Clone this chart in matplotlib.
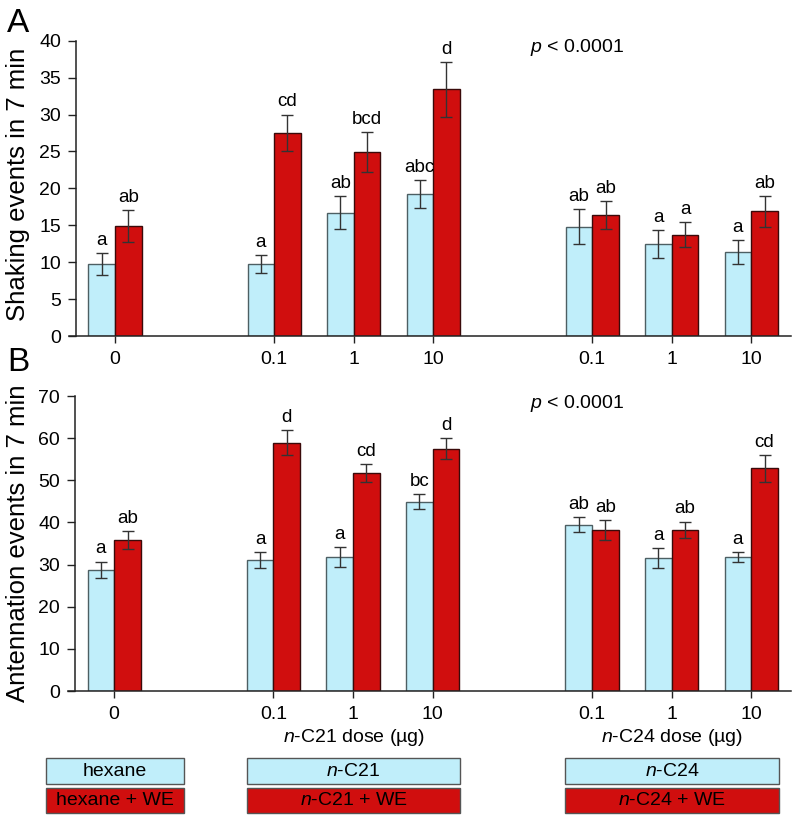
import numpy as np
import matplotlib
matplotlib.use("Agg")
import matplotlib.pyplot as plt
from matplotlib.patches import Rectangle

plt.rcParams["font.family"] = ["Liberation Sans", "DejaVu Sans"]
plt.rcParams["mathtext.fontset"] = "custom"
plt.rcParams["mathtext.it"] = "Liberation Sans:italic"
plt.rcParams["mathtext.rm"] = "Liberation Sans"

# group positions on the x axis and their tick labels
positions = [0, 2, 3, 4, 6, 7, 8]
tick_labels = ["0", "0.1", "1", "10", "0.1", "1", "10"]

# A: shaking events (mean, SE)
shake_ctrl = [9.7, 9.8, 16.7, 19.2, 14.8, 12.5, 11.4]
shake_ctrl_se = [1.5, 1.2, 2.2, 1.9, 2.4, 1.9, 1.6]
shake_we = [14.9, 27.5, 24.9, 33.4, 16.4, 13.7, 16.9]
shake_we_se = [2.1, 2.5, 2.7, 3.7, 1.9, 1.7, 2.1]
shake_ctrl_let = ["a", "a", "ab", "abc", "ab", "a", "a"]
shake_we_let = ["ab", "cd", "bcd", "d", "ab", "a", "ab"]

# B: antennation events (mean, SE)
ant_ctrl = [28.7, 31.1, 31.8, 44.9, 39.5, 31.6, 31.8]
ant_ctrl_se = [2.0, 1.9, 2.3, 1.8, 1.7, 2.4, 1.2]
ant_we = [35.8, 58.9, 51.7, 57.5, 38.2, 38.2, 52.8]
ant_we_se = [2.2, 3.0, 2.2, 2.5, 2.4, 2.0, 3.1]
ant_ctrl_let = ["a", "a", "a", "bc", "ab", "a", "a"]
ant_we_let = ["ab", "d", "cd", "d", "ab", "ab", "cd"]

BLUE = "#c0eefa"
RED = "#d00e0e"
W = 0.335
W_PX, H_PX = 796, 815
FS = 14

fig = plt.figure(figsize=(W_PX / 100, H_PX / 100), dpi=100)


def fx(px):
    return px / W_PX


def fy(px):
    return 1 - px / H_PX


def panel(rect, ctrl, ctrl_se, we, we_se, lc, lw, ymax, step, ylabel, label_y, p_y):
    ax = fig.add_axes(rect)
    x = np.array(positions, float)
    ax.bar(x - W / 2, ctrl, W, color=BLUE, edgecolor="#4d5f63", linewidth=1.0, zorder=2)
    ax.bar(x + W / 2, we, W, color=RED, edgecolor="#3a0a0a", linewidth=1.0, zorder=2)
    ek = dict(fmt="none", ecolor="#333333", elinewidth=1.0, capsize=4.5, capthick=1.0, zorder=3)
    ax.errorbar(x - W / 2, ctrl, yerr=ctrl_se, **ek)
    ax.errorbar(x + W / 2, we, yerr=we_se, **ek)
    for xi, m, s, t in zip(x - W / 2, ctrl, ctrl_se, lc):
        ax.annotate(t, (xi, m + s), xytext=(0, 3), textcoords="offset points",
                    ha="center", va="bottom", fontsize=13.5)
    for xi, m, s, t in zip(x + W / 2, we, we_se, lw):
        ax.annotate(t, (xi, m + s), xytext=(0, 3), textcoords="offset points",
                    ha="center", va="bottom", fontsize=13.5)
    ax.set_xlim(-0.58, 8.5)
    ax.set_ylim(0, ymax)
    ax.set_yticks(np.arange(0, ymax + 1, step))
    ax.set_xticks(positions)
    ax.set_xticklabels(tick_labels)
    ax.tick_params(axis="both", labelsize=FS, direction="out", width=1.0, color="#222222")
    ax.tick_params(axis="y", length=6, pad=5)
    ax.tick_params(axis="x", length=5, pad=6)
    for s in ["top", "right"]:
        ax.spines[s].set_visible(False)
    for s in ["left", "bottom"]:
        ax.spines[s].set_linewidth(1.1)
        ax.spines[s].set_color("#222222")
    ax.spines["left"].set_position(("data", -0.49))
    fig.text(fx(577), fy(p_y), "$p$ < 0.0001", fontsize=FS, ha="center", va="center")
    fig.text(fx(18), fy(label_y), ylabel, rotation=90, ha="center", va="center", fontsize=18.5)
    return ax


axA = panel([fx(69), fy(336), fx(791) - fx(69), fy(40.7) - fy(336)],
            shake_ctrl, shake_ctrl_se, shake_we, shake_we_se,
            shake_ctrl_let, shake_we_let, 40, 5, "Shaking events in 7 min", 184, 47)
axB = panel([fx(68), fy(691), fx(791) - fx(68), fy(396) - fy(691)],
            ant_ctrl, ant_ctrl_se, ant_we, ant_we_se,
            ant_ctrl_let, ant_we_let, 70, 10, "Antennation events in 7 min", 543, 403)

fig.text(fx(7), fy(8), "A", fontsize=24, ha="left", va="top")
fig.text(fx(7), fy(347), "B", fontsize=24, ha="left", va="top")

fig.text(fx(354), fy(738), "$n$-C21 dose (µg)", fontsize=FS, ha="center", va="center")
fig.text(fx(672), fy(738), "$n$-C24 dose (µg)", fontsize=FS, ha="center", va="center")

# legend boxes under the axes
boxes = [(46, 184, "hexane", "hexane + WE"),
         (247, 460, "$n$-C21", "$n$-C21 + WE"),
         (565, 779, "$n$-C24", "$n$-C24 + WE")]
for x0, x1, top_txt, bot_txt in boxes:
    for (y0, y1), col, txt in [((758, 784), BLUE, top_txt), ((788, 813), RED, bot_txt)]:
        fig.add_artist(Rectangle((fx(x0), fy(y1)), fx(x1) - fx(x0), fy(y0) - fy(y1),
                                 transform=fig.transFigure, facecolor=col,
                                 edgecolor="#555555", linewidth=1.0))
        fig.text(fx((x0 + x1) / 2), fy((y0 + y1) / 2), txt, fontsize=FS,
                 ha="center", va="center")

fig.savefig("out.png", dpi=100)
